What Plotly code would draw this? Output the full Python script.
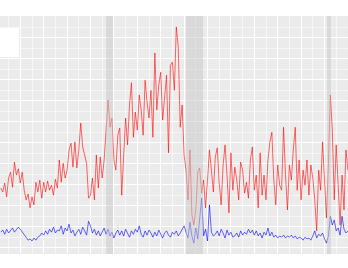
import plotly.graph_objects as go

months = list(range(-10, 169))

red = [14.2, 13.3, 15.4, 12.1, 16.6, 18.0, 14.4, 20.4, 17.3, 18.8,
       15.4, 18.0, 13.7, 11.4, 12.8, 9.5, 12.1, 10.2, 15.6, 13.3,
       16.1, 11.8, 15.6, 13.3, 15.9, 13.7, 14.9, 12.5, 16.3, 14.2,
       20.9, 15.6, 20.1, 16.6, 18.5, 23.3, 24.9, 19.2, 25.2, 19.0,
       23.3, 29.7, 24.0, 22.1, 20.1, 11.8, 12.5, 16.6, 11.4, 22.1,
       14.2, 21.6, 16.6, 20.9, 27.3, 35.2, 28.7, 30.9, 20.9, 18.5,
       26.8, 28.5, 12.5, 20.9, 30.9, 24.5, 34.0, 39.3, 26.3, 32.3,
       28.0, 36.4, 32.8, 26.8, 39.9, 34.7, 30.9, 37.5, 26.3, 46.4,
       32.8, 38.7, 41.8, 30.4, 35.6, 41.1, 22.6, 43.5, 44.2, 37.5,
       52.6, 47.8, 28.7, 34.0, 22.1, 18.5, 11.4, 23.3, 7.8, 5.4,
       9.0, 18.0, 19.0, 13.0, 16.1, 9.5, 16.1, 23.3, 18.5, 13.3,
       21.6, 23.8, 15.4, 10.2, 19.7, 24.5, 17.3, 8.3, 22.6, 13.7,
       19.2, 16.1, 11.4, 20.4, 18.5, 13.0, 15.6, 11.8, 20.9, 24.0,
       13.7, 17.3, 9.5, 22.6, 12.5, 17.3, 11.4, 20.9, 25.2, 27.5,
       16.1, 10.2, 19.7, 14.9, 13.7, 28.7, 17.3, 9.0, 19.7, 16.1,
       23.3, 28.7, 13.7, 20.9, 11.4, 18.5, 14.9, 20.9, 12.5, 19.7,
       16.6, 11.4, 4.0, 18.5, 13.7, 25.2, 16.1, 7.1, 19.7, 36.4,
       28.0, 11.4, 24.5, 13.7, 5.4, 17.3, 9.0, 23.3, 18.5]

blue = [3.7, 4.2, 3.2, 4.4, 3.5, 4.0, 4.7, 3.7, 4.2, 4.9,
        4.4, 3.7, 3.0, 2.3, 1.8, 2.1, 1.6, 2.3, 1.8, 2.5,
        2.8, 3.5, 3.0, 4.0, 3.2, 4.4, 3.7, 4.9, 3.5, 4.2,
        4.0, 5.2, 3.2, 4.7, 4.0, 5.6, 3.5, 4.2, 2.8, 3.7,
        4.4, 3.2, 4.9, 4.0, 3.0, 6.3, 5.2, 3.5, 4.4, 3.0,
        4.0, 2.8, 3.7, 4.7, 3.2, 4.4, 2.8, 3.7, 2.3, 3.5,
        4.2, 3.0, 4.0, 2.8, 4.4, 3.5, 2.5, 4.0, 3.2, 4.4,
        3.7, 5.2, 3.2, 2.5, 4.0, 3.0, 4.2, 3.5, 2.5, 3.7,
        2.8, 4.2, 3.2, 2.3, 3.5, 4.0, 3.0, 2.5, 3.7, 3.2,
        4.0, 2.8, 3.5, 4.4, 5.2, 3.7, 2.3, 6.1, 2.8, 1.1,
        4.7, 2.1, 7.8, 11.8, 2.8, 4.4, 1.6, 10.2, 3.7, 2.8,
        3.2, 4.0, 2.8, 4.4, 3.5, 2.3, 4.2, 3.0, 3.7, 2.5,
        2.8, 3.5, 2.5, 4.0, 3.0, 3.7, 3.2, 4.4, 3.5, 4.2,
        3.0, 4.0, 2.8, 3.5, 2.3, 3.7, 3.0, 4.7, 2.8, 3.7,
        2.5, 3.0, 2.3, 2.8, 2.5, 3.0, 2.3, 2.8, 2.5, 3.0,
        2.3, 2.8, 2.1, 2.5, 2.3, 1.8, 2.5, 2.1, 2.3, 1.8,
        2.8, 4.0, 2.3, 3.2, 2.8, 3.5, 2.1, 1.1, 2.8, 7.5,
        5.4, 6.6, 4.0, 4.7, 3.0, 7.5, 4.4, 3.5, 4.0]

bands = [(44.0, 47.5), (85.0, 93.7), (157.3, 159.3)]

fig = go.Figure()
fig.add_trace(go.Scatter(x=months, y=red, mode="lines", name="red",
                         line=dict(color="rgba(255,0,0,0.65)", width=0.9)))
fig.add_trace(go.Scatter(x=months, y=blue, mode="lines", name="blue",
                         line=dict(color="rgba(0,0,255,0.65)", width=0.9)))

for a, b in bands:
    fig.add_shape(type="rect", xref="x", yref="paper", x0=a, x1=b, y0=0, y1=1,
                  fillcolor="rgba(200,200,200,0.5)", line=dict(width=0), layer="above")

fig.add_shape(type="rect", xref="paper", yref="paper", x0=0, x1=19/348, y0=(254-57)/238, y1=(254-28)/238,
              fillcolor="white", line=dict(width=0), layer="above")

fig.update_layout(
    width=348, height=268,
    margin=dict(l=0, r=0, t=16, b=14),
    paper_bgcolor="white", plot_bgcolor="#EBEBEB",
    showlegend=False,
    xaxis=dict(range=[-10.41, 168.05], showticklabels=False, zeroline=False,
               tick0=0, dtick=12, gridcolor="white", gridwidth=1.1, ticks="",
               minor=dict(tick0=6, dtick=12, gridcolor="rgba(255,255,255,0.55)", gridwidth=0.6, showgrid=True)),
    yaxis=dict(range=[-1.5, 55.2], showticklabels=False, zeroline=False,
               tick0=0, dtick=5, gridcolor="white", gridwidth=1.1, ticks="",
               minor=dict(tick0=2.5, dtick=5, gridcolor="rgba(255,255,255,0.55)", gridwidth=0.6, showgrid=True)),
)

fig.write_html("out.html")
